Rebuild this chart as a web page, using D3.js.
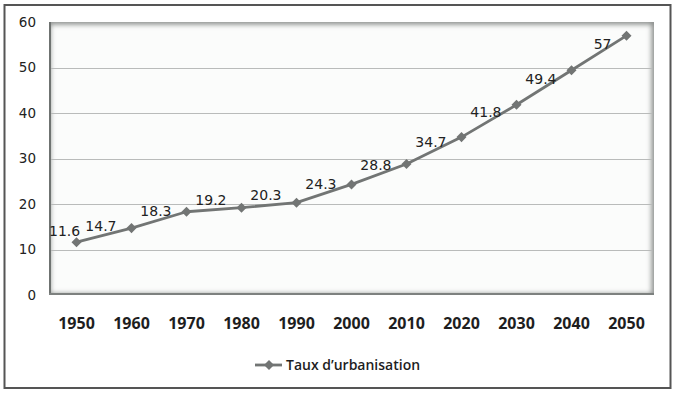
<!DOCTYPE html>
<html>
<head>
<meta charset="utf-8">
<script src="https://cdn.jsdelivr.net/npm/d3@7"></script>
<style>
  body { margin: 0; background: #fff; }
  svg { display: block; }
</style>
</head>
<body>
<div id="chart"></div>
<script>
// values
const years = [1950, 1960, 1970, 1980, 1990, 2000, 2010, 2020, 2030, 2040, 2050];
const rates = [11.6, 14.7, 18.3, 19.2, 20.3, 24.3, 28.8, 34.7, 41.8, 49.4, 57];
const yTicks = [0, 10, 20, 30, 40, 50, 60];
const seriesName = "Taux d\u2019urbanisation";

const data = years.map((y, i) => ({year: y, value: rates[i]}));

const W = 678, H = 394;
const plot = {left: 49, right: 654, top: 22, bottom: 295};
const lineColor = "#727574";

const svg = d3.select("#chart").append("svg")
    .attr("width", W)
    .attr("height", H);

const defs = svg.append("defs");
defs.append("clipPath").attr("id", "plotClip")
  .append("rect")
    .attr("x", plot.left).attr("y", plot.top)
    .attr("width", plot.right - plot.left)
    .attr("height", plot.bottom - plot.top);
defs.append("filter").attr("id", "blur")
    .attr("x", "-10%").attr("y", "-10%").attr("width", "120%").attr("height", "120%")
  .append("feGaussianBlur").attr("stdDeviation", 2.5);

// outer frame
svg.append("rect")
    .attr("x", 4.5).attr("y", 5)
    .attr("width", 666).attr("height", 383)
    .attr("fill", "#fff")
    .attr("stroke", "#555")
    .attr("stroke-width", 2);

const x = d3.scalePoint()
    .domain(years)
    .range([plot.left, plot.right])
    .padding(0.5);

const y = d3.scaleLinear()
    .domain([0, 60])
    .range([plot.bottom, plot.top]);

// plot area with inner shadow
const pa = svg.append("g").attr("clip-path", "url(#plotClip)");
pa.append("rect")
    .attr("x", plot.left).attr("y", plot.top)
    .attr("width", plot.right - plot.left)
    .attr("height", plot.bottom - plot.top)
    .attr("fill", "#fbfcfb");
pa.append("rect")
    .attr("x", plot.left - 2).attr("y", plot.top - 1)
    .attr("width", plot.right - plot.left + 3)
    .attr("height", plot.bottom - plot.top + 3)
    .attr("fill", "none")
    .attr("stroke", "#8a8d8b")
    .attr("stroke-width", 7)
    .attr("filter", "url(#blur)");
pa.append("line")
    .attr("x1", plot.left + 1).attr("x2", plot.left + 1)
    .attr("y1", plot.top).attr("y2", plot.bottom)
    .attr("stroke", "#6f7371").attr("stroke-width", 2);
pa.append("line")
    .attr("x1", plot.left).attr("x2", plot.right)
    .attr("y1", plot.bottom - 1).attr("y2", plot.bottom - 1)
    .attr("stroke", "#7d817f").attr("stroke-width", 2);

// gridlines
svg.append("g")
  .selectAll("line")
  .data(yTicks.filter(t => t > 0 && t < 60))
  .join("line")
    .attr("x1", plot.left + 2)
    .attr("x2", plot.right - 2)
    .attr("y1", d => Math.round(y(d)) + 0.5)
    .attr("y2", d => Math.round(y(d)) + 0.5)
    .attr("stroke", "#b9bbba")
    .attr("stroke-width", 1);

// y axis labels
svg.append("g")
  .selectAll("text")
  .data(yTicks)
  .join("text")
    .attr("x", 36)
    .attr("y", d => y(d))
    .attr("dy", "0.35em")
    .attr("text-anchor", "end")
    .style("font-family", "DejaVu Sans")
    .style("font-size", "13.5px")
    .style("fill", "#222")
    .text(d => d);

// x axis labels
svg.append("g")
  .selectAll("text")
  .data(years)
  .join("text")
    .attr("x", d => x(d))
    .attr("y", 329)
    .attr("text-anchor", "middle")
    .style("font-family", "Open Sans")
    .style("font-weight", "bold")
    .style("font-size", "16px")
    .style("fill", "#1e1e1e")
    .text(d => d);

// line
const line = d3.line()
    .x(d => x(d.year))
    .y(d => y(d.value));

svg.append("path")
    .datum(data)
    .attr("d", line)
    .attr("fill", "none")
    .attr("stroke", lineColor)
    .attr("stroke-width", 2.8)
    .attr("stroke-linejoin", "round");

const diamond = d3.symbol().type(d3.symbolDiamond2).size(64);

svg.append("g")
  .selectAll("path")
  .data(data)
  .join("path")
    .attr("d", diamond)
    .attr("transform", d => `translate(${x(d.year)},${y(d.value)})`)
    .attr("fill", lineColor);

// data labels: to the left of each point, kept above the line and inside the plot
const labels = svg.append("g")
  .selectAll("text")
  .data(data)
  .join("text")
    .style("font-family", "DejaVu Sans")
    .style("font-size", "14px")
    .style("fill", "#222")
    .attr("dy", "0.35em")
    .text(d => d.value);

labels.each(function(d, i) {
  const t = d3.select(this);
  const w = this.getComputedTextLength();
  const px = x(d.year), py = y(d.value);
  let right = px - 15;
  let cy;
  if (i === 0) {
    cy = py - 11;
  } else {
    const prev = data[i - 1];
    const ppx = x(prev.year), ppy = y(prev.value);
    const back = 30;
    cy = py + (ppy - py) * back / (px - ppx) - 10;
  }
  if (right - w < plot.left) right = plot.left + w;
  t.attr("x", right - w).attr("y", cy);
});

// legend
const lg = svg.append("g").attr("transform", "translate(255,365)");
lg.append("line")
    .attr("x1", 0).attr("x2", 27)
    .attr("y1", 0).attr("y2", 0)
    .attr("stroke", lineColor)
    .attr("stroke-width", 2.8);
lg.append("path")
    .attr("d", diamond)
    .attr("transform", "translate(14,0)")
    .attr("fill", lineColor);
lg.append("text")
    .attr("x", 31)
    .attr("y", 0)
    .attr("dy", "0.35em")
    .style("font-family", "Open Sans")
    .style("font-weight", "600")
    .style("font-size", "14px")
    .style("fill", "#1e1e1e")
    .text(seriesName);
</script>
</body>
</html>
